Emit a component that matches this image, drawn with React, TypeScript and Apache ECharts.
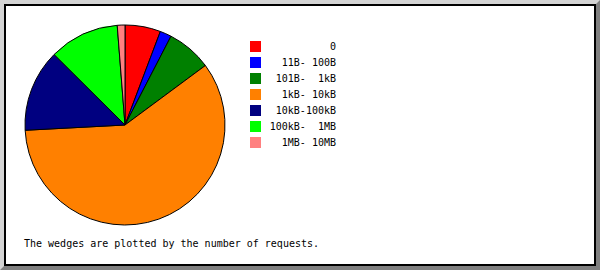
import React, { useEffect, useRef } from "react";
import * as echarts from "echarts";

const categories = ["0", "11B- 100B", "101B-  1kB", "1kB- 10kB", "10kB-100kB", "100kB-  1MB", "1MB- 10MB"];
const requestShares = [5.75, 1.86, 7.25, 59.3, 13.3, 11.3, 1.24];
const sliceColors = ["#ff0000", "#0000ff", "#008000", "#ff8000", "#000080", "#00ff00", "#ff8080"];
const caption = "The wedges are plotted by the number of requests.";

const FONT = "'DejaVu Sans Mono', 'Liberation Mono', monospace";

export default function App() {
  const ref = useRef<HTMLDivElement>(null);
  useEffect(() => {
    if (!ref.current) return;
    const chart = echarts.init(ref.current, undefined, { renderer: "svg" });
    chart.setOption({
      animation: false,
      backgroundColor: "#ffffff",
      legend: {
        orient: "vertical",
        left: 250,
        top: 41,
        padding: 0,
        itemWidth: 11,
        itemHeight: 11,
        itemGap: 5,
        itemTextGap: 5,
        icon: "rect",
        selectedMode: false,
        itemStyle: { borderWidth: 0 },
        data: categories,
        formatter: (name: string) => `{a|${name.replace(/ /g, "\u00a0")}}`,
        textStyle: {
          fontFamily: FONT,
          fontSize: 10,
          color: "#000",
          rich: {
            a: { width: 70, align: "right", fontFamily: FONT, fontSize: 10, lineHeight: 11, color: "#000" },
          },
        },
      },
      series: [
        {
          type: "pie",
          center: [125, 125],
          radius: 100,
          startAngle: 90,
          clockwise: true,
          label: { show: false },
          labelLine: { show: false },
          emphasis: { disabled: true },
          silent: true,
          itemStyle: { borderColor: "#000", borderWidth: 1 },
          data: categories.map((c, i) => ({
            name: c,
            value: requestShares[i],
            itemStyle: { color: sliceColors[i] },
          })),
        },
      ],
      graphic: [
        {
          type: "group",
          z: -10,
          silent: true,
          children: [
            { type: "rect", shape: { x: 0, y: 0, width: 600, height: 270 }, style: { fill: "#d4d4d4" } },
            {
              type: "polygon",
              shape: { points: [[600, 0], [600, 270], [0, 270], [5, 265], [595, 265], [595, 5]] },
              style: { fill: "#808080" },
            },
            {
              type: "rect",
              shape: { x: 5, y: 5, width: 590, height: 260 },
              style: { fill: "#ffffff", stroke: "#000", lineWidth: 2 },
            },
          ],
        },
        {
          type: "text",
          left: 24,
          top: 238,
          style: { text: caption, fontFamily: FONT, fontSize: 10, fill: "#000" },
        },
      ],
    });
    return () => chart.dispose();
  }, []);
  return <div ref={ref} style={{ position: "fixed", left: 0, top: 0, width: 600, height: 270 }} />;
}
